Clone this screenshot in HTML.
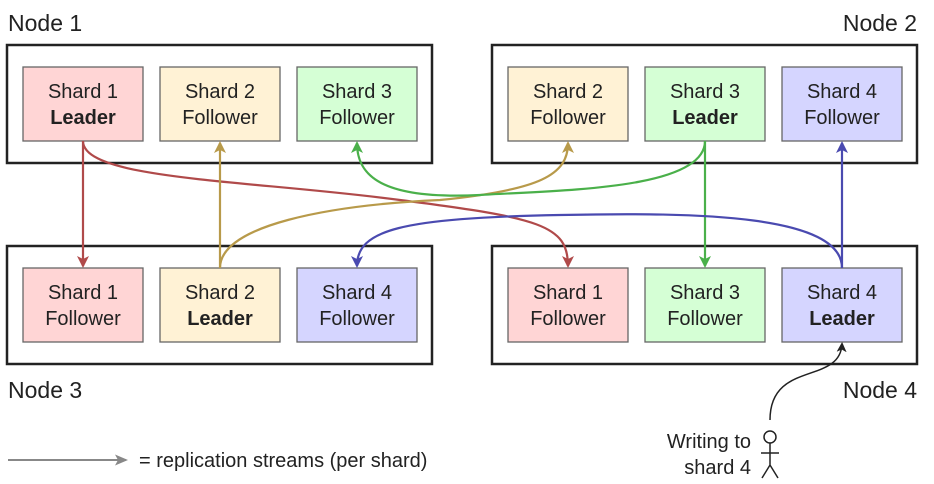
<!DOCTYPE html>
<html><head><meta charset="utf-8"><style>
body{margin:0;background:#fff}
svg{display:block;font-family:"Liberation Sans",sans-serif}
.s{font-size:20px;fill:#222;text-anchor:middle}
.b{font-weight:bold}
.n{font-size:23px;fill:#222}
</style></head><body>
<svg width="934" height="484" viewBox="0 0 934 484" xmlns="http://www.w3.org/2000/svg">
<defs>
<marker id="ar" markerWidth="12" markerHeight="12" refX="10" refY="6" orient="auto" markerUnits="userSpaceOnUse"><path d="M0,0 L12,6 L0,12 L3,6 z" fill="#b04a4a"/></marker>
<marker id="ay" markerWidth="12" markerHeight="12" refX="10" refY="6" orient="auto" markerUnits="userSpaceOnUse"><path d="M0,0 L12,6 L0,12 L3,6 z" fill="#b89a4a"/></marker>
<marker id="ag" markerWidth="12" markerHeight="12" refX="10" refY="6" orient="auto" markerUnits="userSpaceOnUse"><path d="M0,0 L12,6 L0,12 L3,6 z" fill="#4ab04a"/></marker>
<marker id="ab" markerWidth="12" markerHeight="12" refX="10" refY="6" orient="auto" markerUnits="userSpaceOnUse"><path d="M0,0 L12,6 L0,12 L3,6 z" fill="#4a4ab0"/></marker>
<marker id="ak" markerWidth="10" markerHeight="10" refX="8" refY="5" orient="auto" markerUnits="userSpaceOnUse"><path d="M0,0 L10,5 L0,10 L2.5,5 z" fill="#222"/></marker>
<marker id="agr" markerWidth="13" markerHeight="11" refX="11" refY="5.5" orient="auto" markerUnits="userSpaceOnUse"><path d="M0,0 L13,5.5 L0,11 L3,5.5 z" fill="#888"/></marker>
</defs>
<g fill="none" stroke="#222" stroke-width="2.5">
<rect x="7" y="45" width="425" height="118"/>
<rect x="492" y="45" width="425" height="118"/>
<rect x="7" y="246" width="425" height="118"/>
<rect x="492" y="246" width="425" height="118"/>
</g>
<g stroke="#666" stroke-width="1.3">
<rect x="23" y="67" width="120" height="74" fill="#ffd5d5"/>
<rect x="160" y="67" width="120" height="74" fill="#fff2d5"/>
<rect x="297" y="67" width="120" height="74" fill="#d5ffd5"/>
<rect x="508" y="67" width="120" height="74" fill="#fff2d5"/>
<rect x="645" y="67" width="120" height="74" fill="#d5ffd5"/>
<rect x="782" y="67" width="120" height="74" fill="#d5d5ff"/>
<rect x="23" y="268" width="120" height="74" fill="#ffd5d5"/>
<rect x="160" y="268" width="120" height="74" fill="#fff2d5"/>
<rect x="297" y="268" width="120" height="74" fill="#d5d5ff"/>
<rect x="508" y="268" width="120" height="74" fill="#ffd5d5"/>
<rect x="645" y="268" width="120" height="74" fill="#d5ffd5"/>
<rect x="782" y="268" width="120" height="74" fill="#d5d5ff"/>
</g>
<g class="s">
<text x="83" y="98" class="s">Shard 1</text><text x="83" y="124" class="s b">Leader</text>
<text x="220" y="98" class="s">Shard 2</text><text x="220" y="124" class="s">Follower</text>
<text x="357" y="98" class="s">Shard 3</text><text x="357" y="124" class="s">Follower</text>
<text x="568" y="98" class="s">Shard 2</text><text x="568" y="124" class="s">Follower</text>
<text x="705" y="98" class="s">Shard 3</text><text x="705" y="124" class="s b">Leader</text>
<text x="842" y="98" class="s">Shard 4</text><text x="842" y="124" class="s">Follower</text>
<text x="83" y="299" class="s">Shard 1</text><text x="83" y="325" class="s">Follower</text>
<text x="220" y="299" class="s">Shard 2</text><text x="220" y="325" class="s b">Leader</text>
<text x="357" y="299" class="s">Shard 4</text><text x="357" y="325" class="s">Follower</text>
<text x="568" y="299" class="s">Shard 1</text><text x="568" y="325" class="s">Follower</text>
<text x="705" y="299" class="s">Shard 3</text><text x="705" y="325" class="s">Follower</text>
<text x="842" y="299" class="s">Shard 4</text><text x="842" y="325" class="s b">Leader</text>
</g>
<text x="8" y="31" class="n">Node 1</text>
<text x="917" y="31" class="n" text-anchor="end">Node 2</text>
<text x="8" y="398" class="n">Node 3</text>
<text x="917" y="398" class="n" text-anchor="end">Node 4</text>
<g fill="none" stroke-width="2.2">
<path d="M83 141 V266" stroke="#b04a4a" marker-end="url(#ar)"/>
<path d="M83 141 C83 180 250 180 400 200 C540 218 568 225 568 266" stroke="#b04a4a" marker-end="url(#ar)"/>
<path d="M220 268 C220 225 330 205 440 200 C540 190 568 175 568 143" stroke="#b89a4a" marker-end="url(#ay)"/>
<path d="M220 268 V143" stroke="#b89a4a" marker-end="url(#ay)"/>
<path d="M705 141 C705 190 560 190 480 195 C380 200 357 175 357 143" stroke="#4ab04a" marker-end="url(#ag)"/>
<path d="M705 141 V266" stroke="#4ab04a" marker-end="url(#ag)"/>
<path d="M842 268 V143" stroke="#4a4ab0" marker-end="url(#ab)"/>
<path d="M842 268 C842 215 700 212 560 215 C400 218 357 230 357 266" stroke="#4a4ab0" marker-end="url(#ab)"/>
<path d="M770 420 C770 360 840 385 842 344" stroke="#222" stroke-width="1.5" marker-end="url(#ak)"/>
<path d="M8 460 H126" stroke="#888" stroke-width="2" marker-end="url(#agr)"/>
</g>
<g fill="none" stroke="#222" stroke-width="1.5">
<circle cx="770" cy="437" r="6"/>
<path d="M770 443 V465 M761 453 H779 M762 478 L770 465 L778 478"/>
</g>
<text x="751" y="448" font-size="20" fill="#222" text-anchor="end">Writing to</text>
<text x="751" y="474" font-size="20" fill="#222" text-anchor="end">shard 4</text>
<text x="139" y="467" font-size="20" fill="#222">= replication streams (per shard)</text>
</svg>
</body></html>
